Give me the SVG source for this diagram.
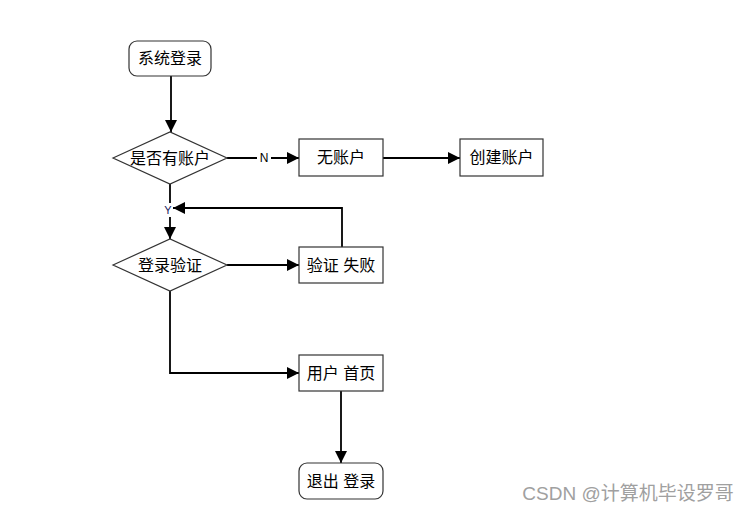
<svg xmlns="http://www.w3.org/2000/svg" width="748" height="513" viewBox="0 0 748 513">
<style>
.n{fill:#fff;stroke:#333;stroke-width:1.2}
.t{font-family:"Liberation Sans","Noto Sans CJK SC",sans-serif;font-size:16px;fill:#000;text-anchor:middle;dominant-baseline:central}
.l{font-family:"Liberation Sans","Noto Sans CJK SC",sans-serif;font-size:12px;fill:#000;text-anchor:middle;dominant-baseline:central}
.c{fill:none;stroke:#000;stroke-width:1.8}
</style>
<defs>
<marker id="b" viewBox="0 0 10 10" refX="10" refY="5" markerWidth="12" markerHeight="12" orient="auto" markerUnits="userSpaceOnUse"><path d="M0,0L10,5L0,10z" fill="#000"/></marker>
</defs>
<rect width="748" height="513" fill="#fff"/>
<g id="connectors">
<path class="c" d="M171,76V132" marker-end="url(#b)"/>
<path class="c" d="M227,158H299" marker-end="url(#b)"/>
<path class="c" d="M383,158H460" marker-end="url(#b)"/>
<path class="c" d="M170,184V239" marker-end="url(#b)"/>
<path class="c" d="M227,265H299" marker-end="url(#b)"/>
<path class="c" d="M170,291V373H299" marker-end="url(#b)"/>
<path class="c" d="M341,391V463" marker-end="url(#b)"/>
<rect x="257" y="151" width="14" height="14" fill="#fff"/>
<text class="l" x="264" y="158">N</text>
<path class="c" d="M342,247V208H173" marker-end="url(#b)"/>
<rect x="164" y="203" width="8" height="14" fill="#fff"/>
<text class="l" x="168" y="210" style="fill:#1a1a60;font-size:11px">Y</text>
</g>
<g id="start">
<rect class="n" x="129" y="41" width="82" height="35" rx="8"/>
<text class="t" x="170" y="58.5">系统登录</text>
</g>
<g id="hasAccount">
<path class="n" d="M113,158L170,132L227,158L170,184Z"/>
<text class="t" x="170" y="158">是否有账户</text>
</g>
<g id="noAccount">
<rect class="n" x="299" y="139" width="84" height="37"/>
<text class="t" x="341" y="157.5">无账户</text>
</g>
<g id="createAccount">
<rect class="n" x="460" y="139" width="83" height="37"/>
<text class="t" x="501.5" y="157.5">创建账户</text>
</g>
<g id="loginVerify">
<path class="n" d="M113,265L170,239L227,265L170,291Z"/>
<text class="t" x="170" y="265">登录验证</text>
</g>
<g id="verifyFail">
<rect class="n" x="299" y="247" width="84" height="36"/>
<text class="t" x="341" y="265">验证 失败</text>
</g>
<g id="home">
<rect class="n" x="299" y="355" width="84" height="36"/>
<text class="t" x="341" y="373">用户 首页</text>
</g>
<g id="logout">
<rect class="n" x="299" y="463" width="84" height="36" rx="8"/>
<text class="t" x="341" y="481">退出 登录</text>
</g>
<text x="628" y="493" style="font-family:'Liberation Sans','Noto Sans CJK SC',sans-serif;font-size:19px;fill:#a0a0a0;text-anchor:middle;dominant-baseline:central">CSDN @计算机毕设罗哥</text>
</svg>
